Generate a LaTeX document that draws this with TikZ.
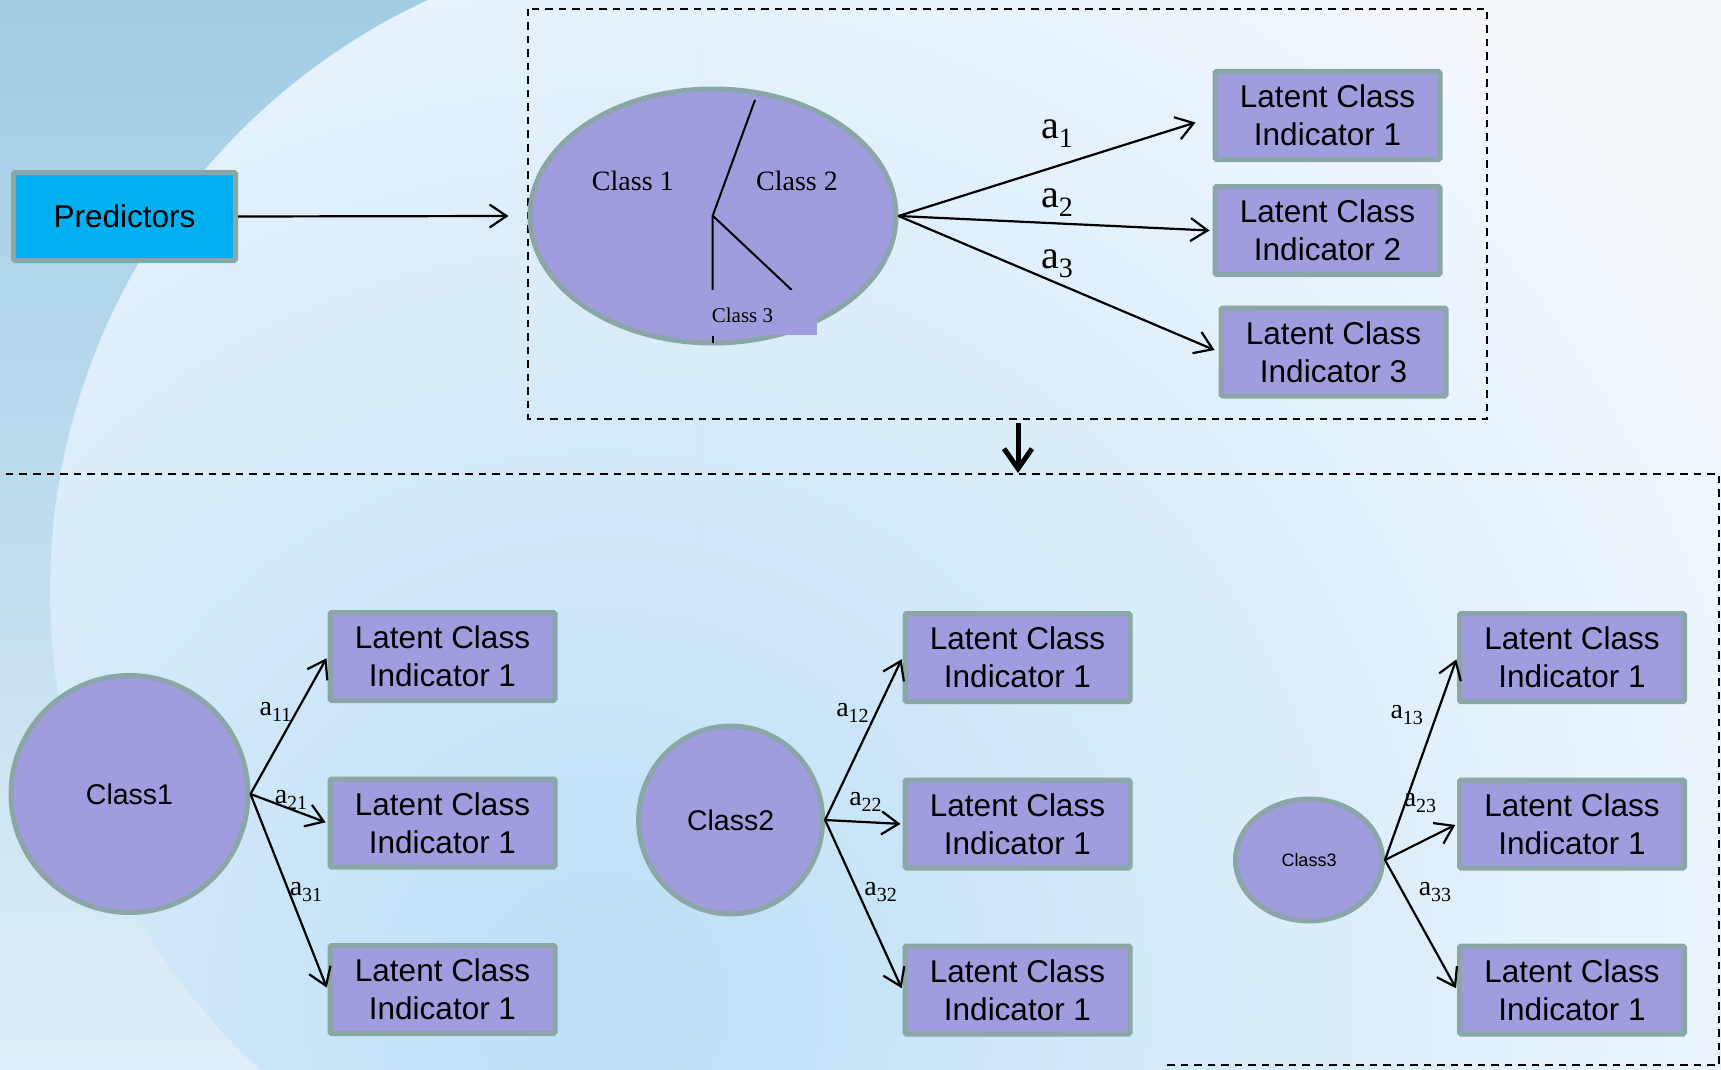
\documentclass[tikz,border=0pt]{standalone}
\usepackage{fontspec}
\setmainfont{Liberation Sans}
\newfontfamily\tnr{Liberation Serif}
\usetikzlibrary{arrows.meta,calc,shapes.geometric}
\definecolor{lav}{RGB}{159,157,222}
\definecolor{bord}{RGB}{139,166,166}
\definecolor{cyanbox}{RGB}{0,176,240}
\definecolor{bgdark}{RGB}{157,202,227}
\definecolor{bglight}{RGB}{233,244,251}
\definecolor{inblue}{RGB}{188,223,246}
\definecolor{inlight}{RGB}{243,248,253}
\newcommand{\labT}[1]{{\tnr\fontsize{40}{42}\selectfont a\raisebox{-9pt}{\fontsize{28}{30}\selectfont #1}}}
\newcommand{\labB}[1]{{\tnr\fontsize{28}{30}\selectfont a\raisebox{-6pt}{\fontsize{20}{22}\selectfont #1}}}
\tikzset{
  ind/.style={rectangle, draw=bord, fill=lav, line width=5pt, rounded corners=1.5pt,
    minimum width=225pt, minimum height=88pt, inner sep=0pt, align=center,
    font=\fontsize{31.5}{38}\selectfont},
  cls/.style={draw=bord, fill=lav, line width=5pt, inner sep=0pt},
  arr/.style={line width=2.2pt, -{Straight Barb[length=17pt,width=23pt]}},
  frame/.style={dash pattern=on 7.5pt off 6pt, line width=1.6pt},
  lab/.style={inner sep=0pt},
  divl/.style={line width=2pt},
}
\begin{document}
\begin{tikzpicture}[x=1pt,y=1pt]
\useasboundingbox (0,0) rectangle (1721,-1070);
% background
\begin{scope}
\clip (0,0) rectangle (1721,-1070);
\fill[inlight] (0,0) rectangle (1721,-1070);
\shade[inner color=inblue, outer color=inlight] (600,-1000) circle (1300);
\begin{scope}
\clip (0,0) rectangle (701,-1070);
\shade[top color=bgdark, bottom color=bglight, even odd rule] (0,0) rectangle (701,-1070) (701,-591) circle (651);
\end{scope}
\end{scope}

% frames
\draw[frame] (528,-9) rectangle (1487,-419);
\draw[frame] (1167,-1065) -- (1719,-1065) -- (1719,-474) -- (-10,-474);

% top part
\node[ind, fill=cyanbox, minimum width=222pt] (pred) at (124.5,-216.5) {Predictors};
\node[cls, ellipse, minimum width=366pt, minimum height=254pt] (ell) at (713,-216) {};
\coordinate (j) at (712.7,-215.7);
\draw[divl] (755,-100) -- (j) -- (712.7,-290);
\draw[divl] (j) -- (791.7,-290);
\fill[lav] (704,-290) rectangle (817,-335);
\draw[divl] (712.7,-336) -- (712.7,-343);
\node[lab, font=\tnr\fontsize{28}{30}\selectfont] (c1) at (632.8,-181) {Class 1};
\node[lab, font=\tnr\fontsize{28}{30}\selectfont] (c2) at (797,-181) {Class 2};
\node[lab, font=\tnr\fontsize{21}{23}\selectfont] (c3) at (742.5,-315) {Class 3};

\node[ind] (t1) at (1327.5,-115.5) {Latent Class\\Indicator 1};
\node[ind] (t2) at (1327.5,-230.5) {Latent Class\\Indicator 2};
\node[ind] (t3) at (1333.5,-352) {Latent Class\\Indicator 3};

\draw[arr] (pred.east) -- ($(ell.west)+(-19,0)$);
\draw[arr] (ell.east) -- ($(t1.west)+(-17,-7)$);
\draw[arr] (ell.east) -- ($(t2.west)+(-3,0)$);
\draw[arr] (ell.east) -- ($(t3.west)+(-4,2)$);
\node[lab] (la1) at (1057,-134) {\labT{1}};
\node[lab] (la2) at (1057,-203) {\labT{2}};
\node[lab] (la3) at (1057,-264) {\labT{3}};

% down arrow
\coordinate (dtop) at (1018,-423);
\coordinate (dbot) at (1018,-473);
\draw[line width=5pt, -{Straight Barb[length=20pt,width=28pt]}] (dtop) -- (dbot);

% bottom group 1
\node[cls, circle, minimum size=237pt, font=\fontsize{28.5}{30}\selectfont] (k1) at (129.5,-794) {Class1};
\node[ind] (b11) at (442.5,-656.5) {Latent Class\\Indicator 1};
\node[ind] (b21) at (442.5,-823) {Latent Class\\Indicator 1};
\node[ind] (b31) at (442.5,-989.5) {Latent Class\\Indicator 1};
\draw[arr, shorten >=2pt] (k1.east) -- (b11.west);
\draw[arr, shorten >=2pt] (k1.east) -- (b21.west);
\draw[arr, shorten >=2pt] (k1.east) -- (b31.west);
\node[lab] at (275.5,-712) {\labB{11}};
\node[lab] at (291,-800) {\labB{21}};
\node[lab] at (306,-892) {\labB{31}};

% bottom group 2
\node[cls, ellipse, minimum width=184pt, minimum height=188pt, font=\fontsize{28.5}{30}\selectfont] (k2) at (730.6,-820) {Class2};
\node[ind] (b12) at (1017.5,-657.5) {Latent Class\\Indicator 1};
\node[ind] (b22) at (1017.5,-824) {Latent Class\\Indicator 1};
\node[ind] (b32) at (1017.5,-990) {Latent Class\\Indicator 1};
\draw[arr, shorten >=2pt] (k2.east) -- (b12.west);
\draw[arr, shorten >=2pt] (k2.east) -- (b22.west);
\draw[arr, shorten >=2pt] (k2.east) -- (b32.west);
\node[lab] at (852.5,-713) {\labB{12}};
\node[lab] at (865.5,-802) {\labB{22}};
\node[lab] at (880.6,-892) {\labB{32}};

% bottom group 3
\node[cls, ellipse, minimum width=147pt, minimum height=122pt, font=\fontsize{18}{20}\selectfont] (k3) at (1309,-860) {Class3};
\node[ind] (b13) at (1572,-657.5) {Latent Class\\Indicator 1};
\node[ind] (b23) at (1572,-824) {Latent Class\\Indicator 1};
\node[ind] (b33) at (1572,-990) {Latent Class\\Indicator 1};
\draw[arr, shorten >=2pt] (k3.east) -- (b13.west);
\draw[arr, shorten >=2pt] (k3.east) -- (b23.west);
\draw[arr, shorten >=2pt] (k3.east) -- (b33.west);
\node[lab] at (1406.7,-715) {\labB{13}};
\node[lab] at (1420,-803) {\labB{23}};
\node[lab] at (1435,-892) {\labB{33}};
\end{tikzpicture}
\end{document}
